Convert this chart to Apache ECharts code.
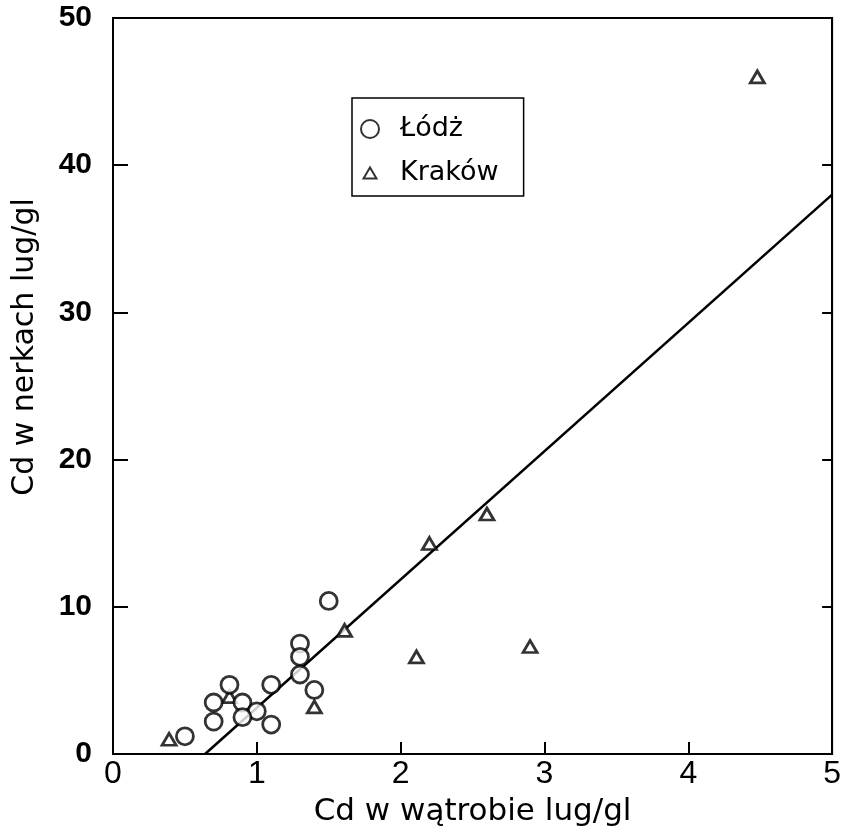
<!DOCTYPE html>
<html>
<head>
<meta charset="utf-8">
<script src="https://cdn.jsdelivr.net/npm/echarts@6/dist/echarts.min.js"></script>
<style>html,body{margin:0;padding:0;background:#fff;}#c{width:844px;height:834px;}</style>
</head>
<body>
<div id="c"></div>
<script>
var xTicks = [0, 1, 2, 3, 4, 5];
var yTicks = [0, 10, 20, 30, 40, 50];
var lodzX = [1.50, 1.30, 1.30, 1.30, 1.40, 1.10, 0.81, 0.70, 0.90, 1.00, 0.90, 0.70, 1.10, 0.50];
var lodzY = [10.4, 7.5, 6.6, 5.4, 4.35, 4.7, 4.7, 3.5, 3.5, 2.9, 2.5, 2.2, 2.0, 1.2];
var krakowX = [0.39, 0.81, 1.40, 1.61, 2.20, 2.60, 2.11, 2.90, 4.48];
var krakowY = [1.0, 3.9, 3.2, 8.4, 14.3, 16.3, 6.6, 7.3, 46.0];
var fitX = [0.64, 5.0];
var fitY = [0.0, 38.0];
var xTitle = 'Cd w wątrobie lug/gl';
var yTitle = 'Cd w nerkach lug/gl';

function pairs(xs, ys) { return xs.map(function (v, i) { return [v, ys[i]]; }); }

var sans = 'Liberation Sans, Arial, sans-serif';
var wide = 'DejaVu Sans, sans-serif';
var narrow = 'Liberation Sans Narrow, Arial Narrow, Liberation Sans, sans-serif';
var triIcon = 'path://M0,0 M22,18 M4.5,14.5 L11,3.5 L17.5,14.5 Z';

var chart = echarts.init(document.getElementById('c'));
chart.setOption({
  animation: false,
  backgroundColor: '#fff',
  grid: { left: 113, right: 6, top: 18, bottom: 80, show: true, borderColor: '#000', borderWidth: 2, backgroundColor: 'transparent' },
  legend: {
    left: 352, top: 98, orient: 'vertical',
    padding: [17, 25, 9, 6], itemGap: 16,
    borderColor: '#000', borderWidth: 1.5,
    itemWidth: 22, itemHeight: 18,
    textStyle: { fontFamily: wide, fontSize: 27, lineHeight: 28, color: '#000', padding: [0, 0, 0, 14] },
    data: [{ name: 'Łódż', icon: 'circle' }, { name: 'Kraków', icon: triIcon }]
  },
  graphic: [{
    type: 'text', x: 25, y: 347, rotation: Math.PI / 2,
    style: { text: yTitle, fontFamily: wide, fontSize: 30, fill: '#000', align: 'center', verticalAlign: 'middle' }
  }],
  xAxis: {
    type: 'value', min: 0, max: 5, interval: 1,
    name: xTitle, nameLocation: 'middle', nameGap: 42,
    nameTextStyle: { fontFamily: wide, fontSize: 31, color: '#000' },
    axisLine: { show: true, lineStyle: { color: '#000', width: 2 } },
    axisTick: { show: true, inside: true, length: 12, lineStyle: { color: '#000', width: 2 } },
    axisLabel: { fontFamily: narrow, fontSize: 32, color: '#000', margin: 4 },
    splitLine: { show: false }
  },
  yAxis: [{
    type: 'value', min: 0, max: 50, interval: 10,
    axisLine: { show: true, lineStyle: { color: '#000', width: 2 } },
    axisTick: { show: true, inside: true, length: 15, lineStyle: { color: '#000', width: 2 } },
    axisLabel: { fontFamily: sans, fontSize: 30, fontWeight: 'bold', color: '#000', margin: 21 },
    splitLine: { show: false }
  }, {
    type: 'value', min: 0, max: 50, interval: 10, position: 'right',
    axisLine: { show: true, lineStyle: { color: '#000', width: 2 } },
    axisTick: { show: true, inside: true, length: 10, lineStyle: { color: '#000', width: 2 } },
    axisLabel: { show: false },
    splitLine: { show: false }
  }],
  series: [
    {
      name: 'Łódż', type: 'scatter', symbol: 'circle', symbolSize: 17, z: 5,
      itemStyle: { color: '#fff', borderColor: '#000', borderWidth: 2.8 },
      data: pairs(lodzX, lodzY)
    },
    {
      name: 'Kraków', type: 'scatter', symbol: 'triangle', symbolSize: [14, 12], z: 4,
      itemStyle: { color: '#fff', borderColor: '#000', borderWidth: 2.8 },
      data: pairs(krakowX, krakowY)
    },
    {
      name: 'fit', type: 'line', symbol: 'none', z: 3,
      lineStyle: { color: '#000', width: 2.5 },
      data: pairs(fitX, fitY)
    }
  ]
});
</script>
</body>
</html>
